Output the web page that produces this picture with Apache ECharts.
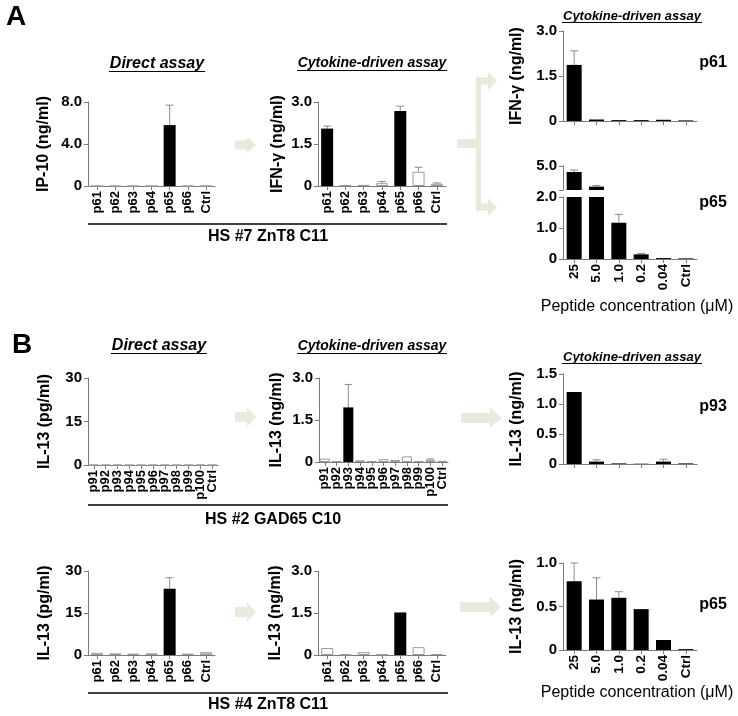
<!DOCTYPE html>
<html>
<head>
<meta charset="utf-8">
<script src="https://cdn.jsdelivr.net/npm/echarts@6/dist/echarts.min.js"></script>
<style>html,body{margin:0;padding:0;background:#fff}#c{width:738px;height:716px}</style>
</head>
<body>
<div id="c"></div>
<script>
// ---------------- DATA ----------------
const peptideCatsA = ['p61','p62','p63','p64','p65','p66','Ctrl'];
const peptideCatsB1 = ['p91','p92','p93','p94','p95','p96','p97','p98','p99','p100','Ctrl'];
const concCats = ['25','5.0','1.0','0.2','0.04','Ctrl'];

// Panel A, HS #7 ZnT8 C11
const aDirectIP10 = [0, 0, 0, 0, 5.8, 0, 0];
const aDirectIP10Err = [0, 0, 0, 0, 1.9, 0, 0];
const aDirectPositive = [4];
const aCytoIFNg = [2.05, 0.03, 0.04, 0.10, 2.68, 0.51, 0.08];
const aCytoIFNgErr = [0.09, 0.01, 0.01, 0.06, 0.17, 0.16, 0.03];
const aCytoPositive = [0, 4];
const aP61Dose = [1.87, 0.05, 0.03, 0.03, 0.04, 0.02];
const aP61DoseErr = [0.47, 0.01, 0.01, 0.01, 0.01, 0.005];
const aP65Dose = [4.25, 2.42, 1.17, 0.15, 0.03, 0.02];
const aP65DoseErr = [0.25, 0.15, 0.27, 0.03, 0.01, 0.005];

// Panel B, HS #2 GAD65 C10
const b1DirectIL13 = [0, 0, 0, 0, 0, 0, 0, 0, 0, 0, 0];
const b1DirectIL13Err = [0, 0, 0, 0, 0, 0, 0, 0, 0, 0, 0];
const b1DirectPositive = [];
const b1CytoIL13 = [0.12, 0.03, 1.95, 0.06, 0.03, 0.10, 0.07, 0.20, 0.03, 0.08, 0.04];
const b1CytoIL13Err = [0.02, 0.01, 0.82, 0.01, 0.01, 0.01, 0.02, 0.01, 0.01, 0.03, 0.01];
const b1CytoPositive = [2];
const b1P93Dose = [1.20, 0.04, 0.01, 0.005, 0.04, 0.01];
const b1P93DoseErr = [0.31, 0.03, 0.005, 0.003, 0.04, 0.005];

// Panel B, HS #4 ZnT8 C11
const b2DirectIL13 = [0.8, 0.6, 0.5, 0.6, 23.7, 0.5, 1.0];
const b2DirectIL13Err = [0.1, 0.1, 0.1, 0.1, 3.9, 0.1, 0.2];
const b2DirectPositive = [4];
const b2CytoIL13 = [0.25, 0.02, 0.10, 0.02, 1.52, 0.28, 0.03];
const b2CytoIL13Err = [0.005, 0.005, 0.01, 0.005, 0.02, 0.005, 0.01];
const b2CytoPositive = [4];
const b2P65Dose = [0.79, 0.58, 0.60, 0.47, 0.115, 0.01];
const b2P65DoseErr = [0.21, 0.25, 0.07, 0.005, 0.005, 0.005];

// ---------------- BUILD ----------------
const FF = '"Liberation Sans", Arial, Helvetica, sans-serif';
const AX = '#7a7a7a';
const grids = [], xAxes = [], yAxes = [], series = [];

const dec = v => v === 0 ? '0' : v.toFixed(1);
const intf = v => String(v);

function panel(o) {
  const gi = grids.length;
  grids.push({left: o.left, top: o.top, width: o.width, height: o.height, containLabel: false});
  xAxes.push({
    type: 'category', gridIndex: gi, data: o.cats,
    axisLine: {show: o.xLine !== false, lineStyle: {color: AX, width: 1}},
    axisTick: {show: o.xLine !== false, alignWithLabel: true, length: 4, lineStyle: {color: AX}},
    axisLabel: {show: !!o.showLabels, interval: 0, rotate: 90, margin: 5,
      fontFamily: FF, fontWeight: 'bold', fontSize: o.catFont || 13, color: '#000'}
  });
  yAxes.push({
    type: 'value', gridIndex: gi, min: o.min, max: o.max, interval: o.interval,
    name: o.yName || '', nameLocation: 'middle', nameGap: o.nameGap || 36,
    nameTextStyle: {fontFamily: FF, fontWeight: 'bold', fontSize: 16, color: '#000'},
    splitLine: {show: false},
    axisLine: {show: true, lineStyle: {color: AX, width: 1}},
    axisTick: {show: true, length: 4, lineStyle: {color: AX}},
    axisLabel: {formatter: o.fmt, margin: 6, fontFamily: FF, fontWeight: 'bold', fontSize: 15, color: '#000'}
  });
  const pos = o.positive;
  series.push({
    type: 'bar', xAxisIndex: gi, yAxisIndex: gi, barWidth: o.barWidth, clip: true,
    silent: true, animation: false,
    data: o.vals.map((v, i) => {
      const black = pos === 'all' || pos.indexOf(i) >= 0;
      return {value: v, itemStyle: black
        ? {color: '#000', borderColor: '#000', borderWidth: 0}
        : {color: (o.grayFill && o.grayFill.indexOf(i) >= 0) ? '#d8d8d8' : '#fff', borderColor: '#9a9a9a', borderWidth: 1}};
    })
  });
  series.push({
    type: 'custom', xAxisIndex: gi, yAxisIndex: gi, silent: true, animation: false,
    data: o.vals.map((v, i) => [i, v, v + o.errs[i]]),
    renderItem: function (params, api) {
      const i = api.value(0), v = api.value(1), t = api.value(2);
      if (!(t > v)) return;
      const cs = params.coordSys;
      const p0 = api.coord([i, v]), p1 = api.coord([i, t]);
      if (p0[1] > cs.y + cs.height + 0.5 || p1[1] < cs.y - 0.5) return;
      if (p0[1] - p1[1] < 0.6) return;
      const cw = o.capW || 8;
      return {type: 'group', children: [
        {type: 'line', shape: {x1: p0[0], y1: p0[1], x2: p1[0], y2: p1[1]}, style: {stroke: '#8c8c8c', lineWidth: 1}},
        {type: 'line', shape: {x1: p1[0] - cw / 2, y1: p1[1], x2: p1[0] + cw / 2, y2: p1[1]}, style: {stroke: '#8c8c8c', lineWidth: 1}}
      ]};
    }
  });
  return gi;
}

// Panel A
panel({left: 88, top: 102, width: 127, height: 84, cats: peptideCatsA, showLabels: true,
  min: 0, max: 8, interval: 4, fmt: dec, yName: 'IP-10 (ng/ml)', nameGap: 36,
  vals: aDirectIP10, errs: aDirectIP10Err, positive: aDirectPositive, barWidth: 12});
panel({left: 318, top: 102, width: 128, height: 84, cats: peptideCatsA, showLabels: true,
  min: 0, max: 3, interval: 1.5, fmt: dec, yName: 'IFN-γ (ng/ml)', nameGap: 32,
  vals: aCytoIFNg, errs: aCytoIFNgErr, positive: aCytoPositive, barWidth: 12});
panel({left: 563, top: 31, width: 134, height: 90, cats: concCats, showLabels: false,
  min: 0, max: 3, interval: 1.5, fmt: dec, yName: 'IFN-γ (ng/ml)', nameGap: 38,
  vals: aP61Dose, errs: aP61DoseErr, positive: 'all', barWidth: 15});
// broken axis: upper segment
panel({left: 563, top: 166, width: 134, height: 24, cats: concCats, showLabels: false, xLine: false,
  min: 2, max: 5, interval: 3, fmt: v => v === 5 ? '5.0' : '', yName: '',
  vals: aP65Dose, errs: aP65DoseErr, positive: 'all', barWidth: 15});
// lower segment
panel({left: 563, top: 197, width: 134, height: 62, cats: concCats, showLabels: true,
  min: 0, max: 2, interval: 1, fmt: dec, yName: '', catFont: 13.5,
  vals: aP65Dose, errs: aP65DoseErr, positive: 'all', barWidth: 15});

// Panel B row 1
panel({left: 88, top: 378, width: 130, height: 87, cats: peptideCatsB1, showLabels: true,
  min: 0, max: 30, interval: 15, fmt: intf, yName: 'IL-13 (pg/ml)', nameGap: 35,
  vals: b1DirectIL13, errs: b1DirectIL13Err, positive: b1DirectPositive, barWidth: 9});
panel({left: 319, top: 378, width: 129, height: 84, cats: peptideCatsB1, showLabels: true,
  min: 0, max: 3, interval: 1.5, fmt: dec, yName: 'IL-13 (ng/ml)', nameGap: 34,
  vals: b1CytoIL13, errs: b1CytoIL13Err, positive: b1CytoPositive, barWidth: 10, capW: 7});
panel({left: 563, top: 374, width: 134, height: 90, cats: concCats, showLabels: false,
  min: 0, max: 1.5, interval: 0.5, fmt: dec, yName: 'IL-13 (ng/ml)', nameGap: 38,
  vals: b1P93Dose, errs: b1P93DoseErr, positive: 'all', barWidth: 15});

// Panel B row 2
panel({left: 88, top: 571, width: 127, height: 84, cats: peptideCatsA, showLabels: true,
  min: 0, max: 30, interval: 15, fmt: intf, yName: 'IL-13 (pg/ml)', nameGap: 35,
  vals: b2DirectIL13, errs: b2DirectIL13Err, positive: b2DirectPositive, barWidth: 12, grayFill: [6]});
panel({left: 318, top: 571, width: 128, height: 84, cats: peptideCatsA, showLabels: true,
  min: 0, max: 3, interval: 1.5, fmt: dec, yName: 'IL-13 (ng/ml)', nameGap: 34,
  vals: b2CytoIL13, errs: b2CytoIL13Err, positive: b2CytoPositive, barWidth: 12});
panel({left: 563, top: 563, width: 134, height: 87, cats: concCats, showLabels: true,
  min: 0, max: 1, interval: 0.5, fmt: dec, yName: 'IL-13 (ng/ml)', nameGap: 38, catFont: 13.5,
  vals: b2P65Dose, errs: b2P65DoseErr, positive: 'all', barWidth: 15});

// ---------------- GRAPHICS (annotations) ----------------
const ARW = '#ebe8dd';
const g = [];
function txt(t, x, y, font, align) {
  g.push({type: 'text', silent: true, style: {text: t, x: x, y: y, font: font, fill: '#000',
    align: align || 'center', verticalAlign: 'middle'}});
}
function hline(x1, x2, y, w, c) {
  g.push({type: 'line', silent: true, shape: {x1: x1, y1: y, x2: x2, y2: y}, style: {stroke: c || '#000', lineWidth: w || 1}});
}
function arrow(x0, xb, xt, cy, bh, hh) {
  g.push({type: 'polygon', silent: true, shape: {points: [
    [x0, cy - bh], [xb, cy - bh], [xb, cy - hh], [xt, cy], [xb, cy + hh], [xb, cy + bh], [x0, cy + bh]]},
    style: {fill: ARW}});
}
function rect(x, y, w, h) {
  g.push({type: 'rect', silent: true, shape: {x: x, y: y, width: w, height: h}, style: {fill: ARW}});
}
const T16 = 'italic bold 16px ' + FF, T14 = 'italic bold 14px ' + FF, T13 = 'italic bold 13px ' + FF;
const B16 = 'bold 16px ' + FF;

txt('A', 16, 17, 'bold 28px ' + FF);
txt('B', 22, 345, 'bold 28px ' + FF);

// Panel A titles
txt('Direct assay', 157, 64, T16); hline(109, 205, 71.5, 1);
txt('Cytokine-driven assay', 372, 63, T14); hline(297, 447, 70.5, 1);
txt('Cytokine-driven assay', 632, 16, T13); hline(562, 702, 22.5, 1);
hline(88, 447, 224, 1.5);
txt('HS #7 ZnT8 C11', 268, 237, B16);
txt('p61', 713, 63, B16);
txt('p65', 713, 203, B16);
txt('Peptide concentration (μM)', 637, 307, '16px ' + FF);

// Panel B titles
txt('Direct assay', 159, 346, T16); hline(111, 207, 353.5, 1);
txt('Cytokine-driven assay', 372, 346, T14); hline(297, 447, 353.5, 1);
txt('Cytokine-driven assay', 632, 357, T13); hline(562, 702, 363.5, 1);
hline(88, 448, 505, 1.5);
txt('HS #2 GAD65 C10', 273, 520, B16);
txt('p93', 713, 407, B16);
hline(88, 448, 693, 1.5);
txt('HS #4 ZnT8 C11', 268, 705, B16);
txt('p65', 713, 605, B16);
txt('Peptide concentration (μM)', 637, 693, '16px ' + FF);

// arrows
arrow(235, 247, 256, 145, 4.5, 8);
rect(457, 139, 21, 9);
rect(476, 77, 5, 134);
arrow(478, 488, 497, 81, 3.5, 9);
arrow(478, 488, 497, 207, 3.5, 9);
arrow(235, 247, 256, 417, 5, 10);
arrow(461, 490, 502, 418, 5, 10);
arrow(235, 247, 256, 612, 5, 10);
arrow(460, 490, 501, 607, 5, 10);

const chart = echarts.init(document.getElementById('c'), null, {renderer: 'canvas'});
chart.setOption({
  animation: false,
  backgroundColor: '#fff',
  grid: grids, xAxis: xAxes, yAxis: yAxes, series: series,
  graphic: g
});
</script>
</body>
</html>
